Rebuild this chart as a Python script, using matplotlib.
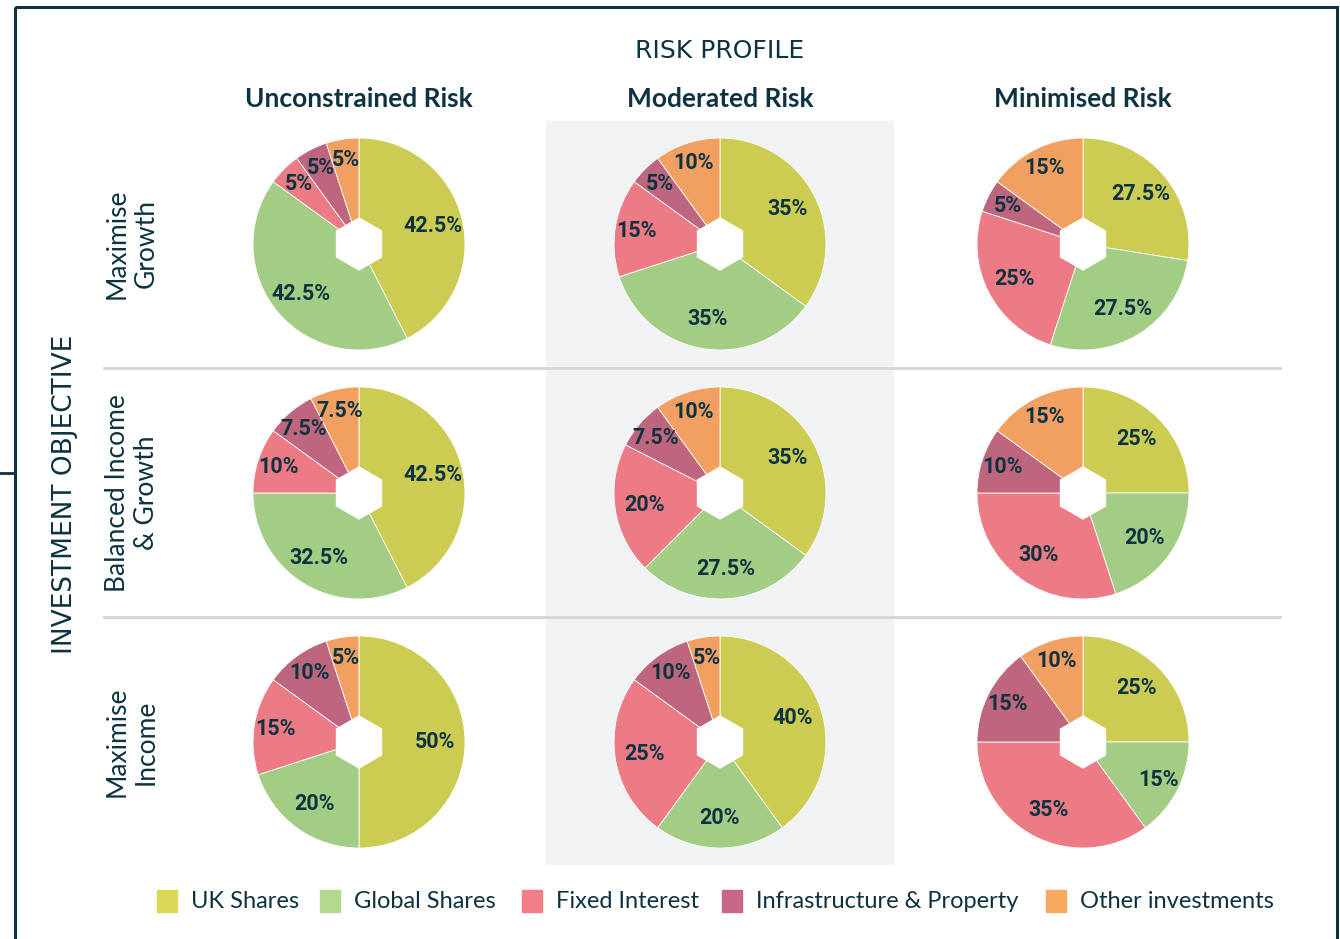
import math

import matplotlib.pyplot as plt
from matplotlib.patches import Rectangle, RegularPolygon

# data
categories = ['UK Shares', 'Global Shares', 'Fixed Interest',
              'Infrastructure & Property', 'Other investments']
colors = ['#cccc52', '#a3cc85', '#ec7b85', '#bf667f', '#f2a061']
legend_colors = ['#d9d957', '#b3d991', '#f27f88', '#c76685', '#f9aa61']
risk_profiles = ['Unconstrained Risk', 'Moderated Risk', 'Minimised Risk']
objectives = ['Maximise\nGrowth', 'Balanced Income\n& Growth', 'Maximise\nIncome']

growth = [[42.5, 42.5, 5, 5, 5],
          [35, 35, 15, 5, 10],
          [27.5, 27.5, 25, 5, 15]]
balanced = [[42.5, 32.5, 10, 7.5, 7.5],
            [35, 27.5, 20, 7.5, 10],
            [25, 20, 30, 10, 15]]
income = [[50, 20, 15, 10, 5],
          [40, 20, 25, 10, 5],
          [25, 15, 35, 15, 10]]
allocations = [growth, balanced, income]

W, H = 1340, 939
DARK = '#0d3340'
col_x = [359, 720, 1083]
row_y = [244, 493, 742]
R = 106

fig = plt.figure(figsize=(W / 100, H / 100), dpi=100)
bg = fig.add_axes([0, 0, 1, 1])
bg.set_xlim(0, W)
bg.set_ylim(H, 0)
bg.axis('off')

# frame and shaded middle column
bg.add_patch(Rectangle((15, 7), 1322, 960, fill=False, ec=DARK, lw=2.2))
bg.plot([0, 15], [473, 473], color=DARK, lw=2)
bg.add_patch(Rectangle((546, 121), 347, 743, color='#f1f2f4', zorder=0))
for y in [368, 617]:
    bg.plot([104, 1280], [y, y], color='#d4d4d4', lw=2)

bg.text(720, 51, 'RISK PROFILE', ha='center', va='center', fontsize=18,
        color=DARK, family='DejaVu Sans')
bg.text(65, 494, 'INVESTMENT OBJECTIVE', ha='center', va='center',
        rotation=90, fontsize=19, color=DARK, family='DejaVu Sans')
for x, t in zip(col_x, risk_profiles):
    bg.text(x, 99, t, ha='center', va='center', fontsize=19,
            fontweight='bold', color=DARK, family='Lato')
for y, t in zip(row_y, objectives):
    bg.text(132, y, t, ha='center', va='center', rotation=90, fontsize=19,
            color=DARK, family='Lato', linespacing=1.2)

# pies
for i, row in enumerate(allocations):
    for j, vals in enumerate(row):
        cx, cy = col_x[j], row_y[i]
        ax = fig.add_axes([(cx - R) / W, 1 - (cy + R) / H, 2 * R / W, 2 * R / H])
        ax.pie(vals, colors=colors, startangle=90, counterclock=False,
               radius=1, wedgeprops=dict(edgecolor='white', linewidth=0.6))
        total = sum(vals)
        acc = 0
        for v in vals:
            mid = (acc + v / 2) / total * 2 * math.pi
            acc += v
            d = 0.72 if v >= 20 else 0.8
            ax.text(d * math.sin(mid), d * math.cos(mid), f'{v:g}%',
                    ha='center', va='center', fontsize=15.5,
                    fontweight='bold', color=DARK, family='Roboto')
        # white hexagon in the middle
        ax.add_patch(RegularPolygon((0, 0), 6, radius=0.245, color='white',
                                    zorder=5))
        ax.set_xlim(-1, 1)
        ax.set_ylim(-1, 1)
        ax.set_aspect('equal')
        ax.axis('off')

# legend
leg_x = [157, 320, 522, 722, 1046]
for x, c, t in zip(leg_x, legend_colors, categories):
    bg.add_patch(Rectangle((x, 890), 20, 22, color=c))
    bg.text(x + 34, 901, t, ha='left', va='center', fontsize=17,
            color=DARK, family='Lato')

fig.savefig('out.png', dpi=100)
